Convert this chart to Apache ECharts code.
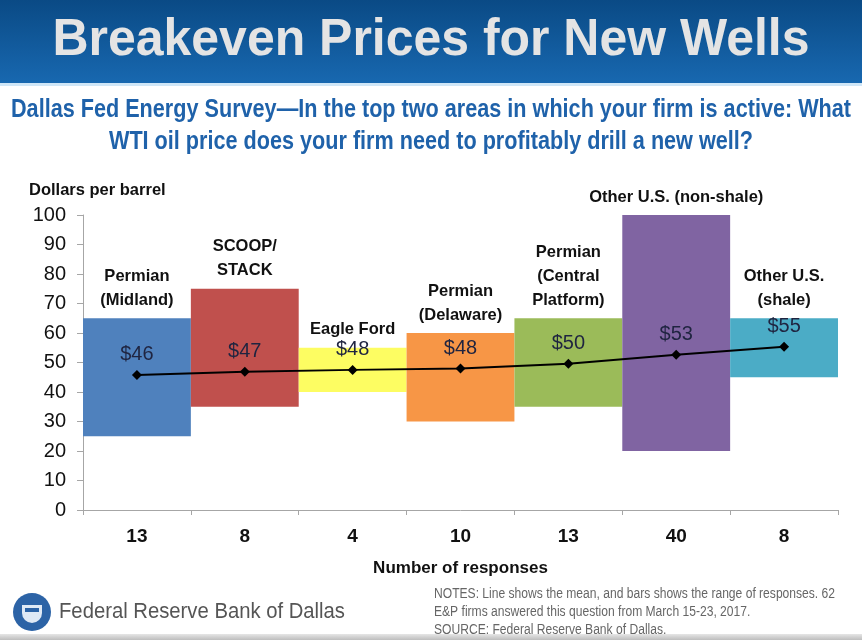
<!DOCTYPE html>
<html><head><meta charset="utf-8">
<script src="https://cdn.jsdelivr.net/npm/echarts@6/dist/echarts.min.js"></script>
<style>html,body{margin:0;padding:0;background:#fff}#c{width:862px;height:640px}</style>
</head><body><div id="c"></div>
<script>
const responses = ['13','8','4','10','13','40','8'];
const regions = ['Permian\n(Midland)','SCOOP/\nSTACK','Eagle Ford','Permian\n(Delaware)','Permian\n(Central\nPlatform)','Other U.S. (non-shale)','Other U.S.\n(shale)'];
const rangeLow = [25, 35, 40, 30, 35, 20, 45];
const rangeHigh = [65, 75, 55, 60, 65, 100, 65];
const means = [45.8, 46.9, 47.5, 48.0, 49.6, 52.6, 55.3];
const meanLabels = ['$46','$47','$48','$48','$50','$53','$55'];
const barColors = ['#4f81bd','#c0504d','#fdfd62','#f79646','#9bbb59','#8064a2','#4bacc6'];
const yTicks = [0,10,20,30,40,50,60,70,80,90,100];

const sans = '"Liberation Sans", Arial, sans-serif';
const mctx = document.createElement('canvas').getContext('2d');
function fitScale(text, font, target) { mctx.font = font; return target / mctx.measureText(text).width; }

const titleText = 'Breakeven Prices for New Wells';
const titleFont = 'bold 52px ' + sans;
const titleScale = fitScale(titleText, titleFont, 757);
const sub1 = 'Dallas Fed Energy Survey\u2014In the top two areas in which your firm is active: What';
const sub2 = 'WTI oil price does your firm need to profitably drill a new well?';
const subFont = 'bold 25px ' + sans;
const subScale = fitScale(sub1, subFont, 840);
const note1 = 'NOTES: Line shows the mean, and bars shows the range of responses. 62';
const note2 = 'E&P firms answered this question from March 15-23, 2017.';
const note3 = 'SOURCE: Federal Reserve Bank of Dallas.';
const noteFont = '14px ' + sans;
const noteScale = fitScale(note1, noteFont, 401);
const fedText = 'Federal Reserve Bank of Dallas';
const fedFont = '22px ' + sans;
const fedScale = fitScale(fedText, fedFont, 286);

function txt(x, y, text, font, fill, sx, align) {
  return { type: 'text', x: x, y: y, scaleX: sx || 1, style: { text: text, font: font, fill: fill, align: align || 'left', verticalAlign: 'middle' } };
}

const chart = echarts.init(document.getElementById('c'));
chart.setOption({
  animation: false,
  backgroundColor: '#fff',
  grid: { left: 83, right: 24, top: 215, bottom: 130, containLabel: false },
  xAxis: {
    type: 'category', data: responses, boundaryGap: true,
    axisLine: { lineStyle: { color: '#a6a6a6', width: 1 } },
    axisTick: { show: true, length: 5, lineStyle: { color: '#a6a6a6' } },
    axisLabel: { color: '#111', fontSize: 19, fontWeight: 'bold', fontFamily: sans, margin: 17 },
    name: 'Number of responses', nameLocation: 'middle', nameGap: 50,
    nameTextStyle: { color: '#111', fontSize: 17, fontWeight: 'bold', fontFamily: sans }
  },
  yAxis: {
    type: 'value', min: yTicks[0], max: yTicks[yTicks.length-1], interval: 10,
    axisLine: { show: true, lineStyle: { color: '#a6a6a6' } },
    axisTick: { show: true, length: 6, lineStyle: { color: '#a6a6a6' } },
    splitLine: { show: false },
    axisLabel: { color: '#111', fontSize: 20, fontFamily: sans, margin: 17 }
  },
  series: [
    { type: 'bar', stack: 'r', data: rangeLow, barWidth: '100%', itemStyle: { color: 'transparent' }, silent: true },
    { type: 'bar', stack: 'r', barWidth: '100%',
      data: rangeHigh.map((h, i) => ({ value: h - rangeLow[i], itemStyle: { color: barColors[i] } })),
      label: { show: true, position: 'top', distance: 6, formatter: p => regions[p.dataIndex],
        color: '#111', fontSize: 16.5, fontWeight: 'bold', fontFamily: sans, lineHeight: 24, align: 'center' } },
    { type: 'line', data: means, symbol: 'diamond', symbolSize: 10, z: 5,
      lineStyle: { color: '#000', width: 2 }, itemStyle: { color: '#000' },
      label: { show: true, position: 'top', distance: 5, formatter: p => meanLabels[p.dataIndex],
        color: '#1f2440', fontSize: 20, fontFamily: sans } }
  ],
  graphic: [
    { type: 'rect', shape: { x: 0, y: 0, width: 862, height: 83 },
      style: { fill: new echarts.graphic.LinearGradient(0,0,0,1,[{offset:0,color:'#0a4a85'},{offset:1,color:'#1868b0'}]) } },
    { type: 'rect', shape: { x: 0, y: 83, width: 862, height: 3 }, style: { fill: '#cfe6f7' } },
    txt(431, 41, titleText, titleFont, '#e4e4e4', titleScale, 'center'),
    txt(431, 110, sub1, subFont, '#1f62aa', subScale, 'center'),
    txt(431, 142, sub2, subFont, '#1f62aa', subScale, 'center'),
    txt(29, 190, 'Dollars per barrel', 'bold 16.5px ' + sans, '#111'),
    { type: 'circle', shape: { cx: 32, cy: 612, r: 19 }, style: { fill: '#2c63a6' } },
    { type: 'rect', shape: { x: 22, y: 605, width: 20, height: 18, r: [0,0,10,10] }, style: { fill: '#dfe9f5' } },
    { type: 'rect', shape: { x: 25, y: 608, width: 14, height: 4 }, style: { fill: '#2c63a6' } },
    txt(59, 612, fedText, fedFont, '#555', fedScale),
    txt(434, 594, note1, noteFont, '#666', noteScale),
    txt(434, 612, note2, noteFont, '#666', noteScale),
    txt(434, 630, note3, noteFont, '#666', noteScale),
    { type: 'rect', shape: { x: 0, y: 634, width: 862, height: 6 },
      style: { fill: new echarts.graphic.LinearGradient(0,0,0,1,[{offset:0,color:'#e6e6e6'},{offset:1,color:'#bdbdbd'}]) } }
  ]
});
</script></body></html>
